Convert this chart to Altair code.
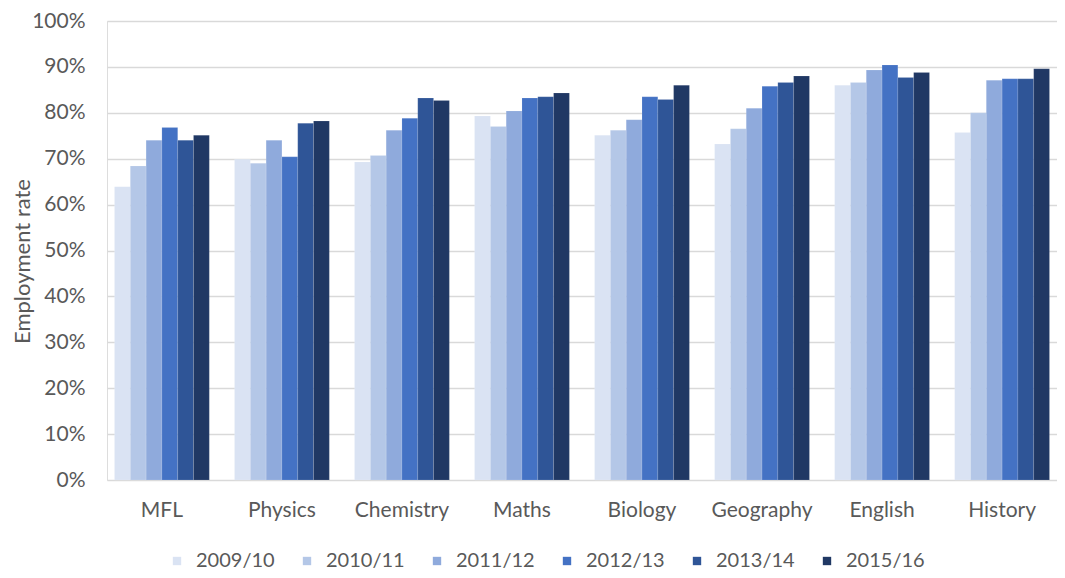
import altair as alt
import pandas as pd

subjects = ["MFL", "Physics", "Chemistry", "Maths", "Biology", "Geography", "English", "History"]
years = ["2009/10", "2010/11", "2011/12", "2012/13", "2013/14", "2015/16"]
colors = ["#DAE3F3", "#B4C7E7", "#8FAADC", "#4472C4", "#2F5597", "#203864"]

rate_2009_10 = [63.9, 69.9, 69.3, 79.3, 75.1, 73.2, 86.0, 75.7]
rate_2010_11 = [68.4, 69.0, 70.7, 77.0, 76.2, 76.5, 86.6, 80.0]
rate_2011_12 = [74.0, 74.0, 76.2, 80.4, 78.5, 81.0, 89.3, 87.1]
rate_2012_13 = [76.8, 70.4, 78.8, 83.2, 83.5, 85.8, 90.4, 87.4]
rate_2013_14 = [74.0, 77.7, 83.2, 83.5, 82.9, 86.6, 87.7, 87.4]
rate_2015_16 = [75.1, 78.2, 82.7, 84.3, 86.0, 88.0, 88.8, 89.6]

series = [rate_2009_10, rate_2010_11, rate_2011_12, rate_2012_13, rate_2013_14, rate_2015_16]
rows = []
for y, vals in zip(years, series):
    for s, v in zip(subjects, vals):
        rows.append({"subject": s, "year": y, "rate": v})
df = pd.DataFrame(rows)

FONT = "Lato"
GREY = "#595959"

chart = (
    alt.Chart(df)
    .mark_bar(stroke="white", strokeWidth=0.3, strokeOpacity=0.4)
    .encode(
        x=alt.X(
            "subject:N",
            sort=subjects,
            title=None,
            scale=alt.Scale(paddingInner=0.21, paddingOuter=0.0625),
            axis=alt.Axis(
                labelAngle=0,
                domain=False,
                ticks=False,
                labelPadding=19,
                labelFontSize=21,
                labelColor=GREY,
                labelFont=FONT,
            ),
        ),
        xOffset=alt.XOffset("year:N", sort=years, scale=alt.Scale(paddingInner=0, paddingOuter=0)),
        y=alt.Y(
            "rate:Q",
            title="Employment rate",
            scale=alt.Scale(domain=[0, 100], nice=False),
            axis=alt.Axis(
                values=[0, 10, 20, 30, 40, 50, 60, 70, 80, 90, 100],
                labelExpr="datum.value + '%'",
                domain=False,
                ticks=False,
                labelPadding=22,
                labelFontSize=21,
                labelColor=GREY,
                labelFont=FONT,
                titleFont=FONT,
                titleFontSize=22,
                titleFontWeight="normal",
                titleColor=GREY,
                titleX=-85,
                titleY=240,
                titleAngle=270,
                titleAlign="center",
                titleBaseline="middle",
                gridColor="#D9D9D9",
                gridWidth=1.3,
            ),
        ),
        color=alt.Color(
            "year:N",
            sort=years,
            scale=alt.Scale(domain=years, range=colors),
            legend=alt.Legend(
                title=None,
                orient="none",
                legendX=60,
                legendY=530,
                direction="horizontal",
                symbolType="square",
                symbolSize=70,
                symbolStrokeWidth=0,
                labelFontSize=20,
                labelFont=FONT,
                labelColor=GREY,
                labelOffset=9,
                columnPadding=22,
            ),
        ),
    )
    .properties(
        width=950,
        height=459,
        autosize=alt.AutoSizeParams(type="none"),
        padding={"left": 99, "top": 13, "right": 0, "bottom": 90},
    )
    .configure_view(stroke=None)
    .configure(background="white")
)

chart.save("out.html", embed_options={"renderer": "svg", "actions": False})
